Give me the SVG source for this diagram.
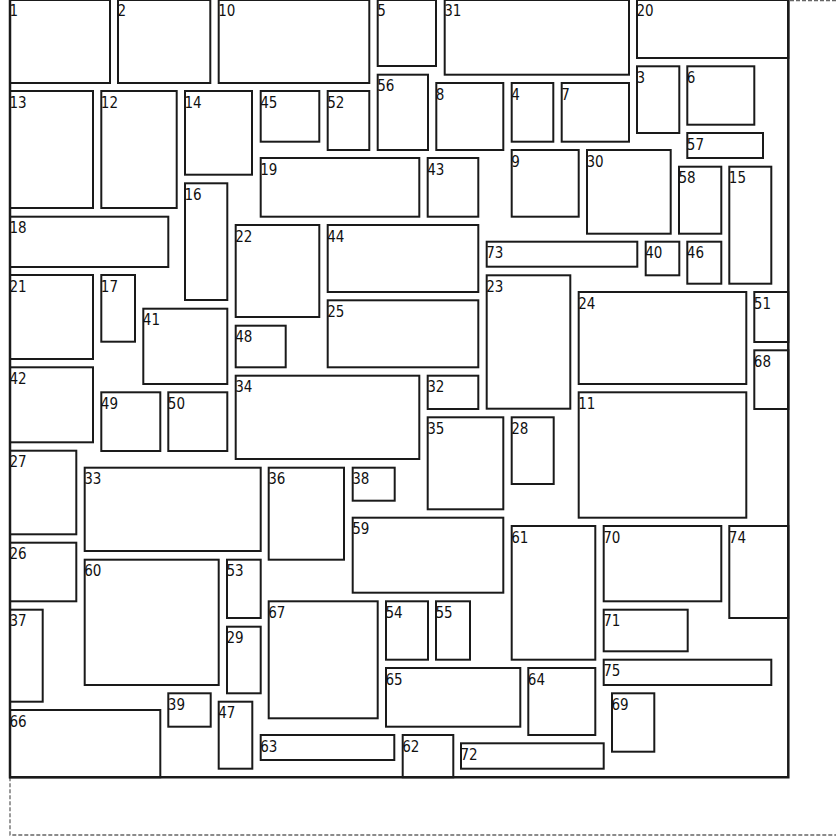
<svg xmlns="http://www.w3.org/2000/svg" width="836" height="837" viewBox="0 0 836 837">
<style>
.n rect{fill:#fff;stroke:#1a1a1a;stroke-width:2}
.n text{font-family:"DejaVu Sans Condensed","DejaVu Sans",sans-serif;font-size:15px;fill:#111}
.outer{fill:none;stroke:#666;stroke-width:1.3;stroke-dasharray:4 2}
.box{fill:none;stroke:#1a1a1a;stroke-width:2.5}
</style>
<rect width="836" height="837" fill="#fff"/>
<rect class="outer" x="10" y="0.7" width="840" height="834.3"/>
<rect x="10" y="0" width="778.3" height="777.3" fill="#fff"/>
<g id="nodes">
<g id="n1" class="n"><rect x="10" y="0" width="100" height="83"/><text x="9.5" y="16">1</text></g>
<g id="n2" class="n"><rect x="118" y="0" width="92.3" height="83"/><text x="117.5" y="16">2</text></g>
<g id="n10" class="n"><rect x="218.7" y="0" width="150.6" height="83"/><text x="218.2" y="16">10</text></g>
<g id="n5" class="n"><rect x="377.7" y="0" width="58.3" height="66"/><text x="377.2" y="16">5</text></g>
<g id="n31" class="n"><rect x="444.7" y="0" width="184.3" height="74.7"/><text x="444.2" y="16">31</text></g>
<g id="n20" class="n"><rect x="637" y="0" width="151.3" height="58"/><text x="636.5" y="16">20</text></g>
<g id="n3" class="n"><rect x="637" y="66.3" width="42.3" height="66.7"/><text x="636.5" y="82.8">3</text></g>
<g id="n6" class="n"><rect x="687.3" y="66.3" width="67" height="58.4"/><text x="686.8" y="82.8">6</text></g>
<g id="n56" class="n"><rect x="377.7" y="74.7" width="50.3" height="75.3"/><text x="377.2" y="91.2">56</text></g>
<g id="n8" class="n"><rect x="436.3" y="83" width="67" height="67"/><text x="435.8" y="99.5">8</text></g>
<g id="n4" class="n"><rect x="511.7" y="83" width="41.6" height="58.7"/><text x="511.2" y="99.5">4</text></g>
<g id="n7" class="n"><rect x="561.7" y="83" width="67.3" height="58.7"/><text x="561.2" y="99.5">7</text></g>
<g id="n13" class="n"><rect x="10" y="91" width="83" height="117"/><text x="9.5" y="107.5">13</text></g>
<g id="n12" class="n"><rect x="101.3" y="91" width="75.4" height="117"/><text x="100.8" y="107.5">12</text></g>
<g id="n14" class="n"><rect x="185" y="91" width="67" height="83.7"/><text x="184.5" y="107.5">14</text></g>
<g id="n45" class="n"><rect x="260.7" y="91" width="58.6" height="50.7"/><text x="260.2" y="107.5">45</text></g>
<g id="n52" class="n"><rect x="327.7" y="91" width="41.6" height="59"/><text x="327.2" y="107.5">52</text></g>
<g id="n57" class="n"><rect x="687.3" y="133" width="75.7" height="25"/><text x="686.8" y="149.5">57</text></g>
<g id="n9" class="n"><rect x="511.7" y="150" width="67" height="66.7"/><text x="511.2" y="166.5">9</text></g>
<g id="n30" class="n"><rect x="587" y="150" width="83.7" height="83.7"/><text x="586.5" y="166.5">30</text></g>
<g id="n19" class="n"><rect x="260.7" y="158" width="158.6" height="58.7"/><text x="260.2" y="174.5">19</text></g>
<g id="n43" class="n"><rect x="427.7" y="158" width="50.6" height="58.7"/><text x="427.2" y="174.5">43</text></g>
<g id="n58" class="n"><rect x="679" y="166.7" width="42.3" height="67"/><text x="678.5" y="183.2">58</text></g>
<g id="n15" class="n"><rect x="729.3" y="166.7" width="42" height="117"/><text x="728.8" y="183.2">15</text></g>
<g id="n16" class="n"><rect x="185" y="183.3" width="42.3" height="116.7"/><text x="184.5" y="199.8">16</text></g>
<g id="n18" class="n"><rect x="10" y="216.7" width="158.3" height="50.3"/><text x="9.5" y="233.2">18</text></g>
<g id="n22" class="n"><rect x="235.7" y="225" width="83.6" height="92"/><text x="235.2" y="241.5">22</text></g>
<g id="n44" class="n"><rect x="327.7" y="225" width="150.6" height="67"/><text x="327.2" y="241.5">44</text></g>
<g id="n73" class="n"><rect x="486.7" y="241.7" width="150.6" height="25"/><text x="486.2" y="258.2">73</text></g>
<g id="n40" class="n"><rect x="645.7" y="241.7" width="33.6" height="33.6"/><text x="645.2" y="258.2">40</text></g>
<g id="n46" class="n"><rect x="687.3" y="241.7" width="34" height="42"/><text x="686.8" y="258.2">46</text></g>
<g id="n21" class="n"><rect x="10" y="275" width="83" height="84"/><text x="9.5" y="291.5">21</text></g>
<g id="n17" class="n"><rect x="101.3" y="275" width="33.7" height="66.7"/><text x="100.8" y="291.5">17</text></g>
<g id="n23" class="n"><rect x="486.7" y="275.3" width="83.6" height="133.4"/><text x="486.2" y="291.8">23</text></g>
<g id="n24" class="n"><rect x="578.7" y="292" width="167.6" height="92"/><text x="578.2" y="308.5">24</text></g>
<g id="n51" class="n"><rect x="754.3" y="292" width="34" height="50"/><text x="753.8" y="308.5">51</text></g>
<g id="n25" class="n"><rect x="327.7" y="300.3" width="150.6" height="67"/><text x="327.2" y="316.8">25</text></g>
<g id="n41" class="n"><rect x="143.3" y="308.7" width="84" height="75.3"/><text x="142.8" y="325.2">41</text></g>
<g id="n48" class="n"><rect x="235.7" y="325.7" width="50" height="41.6"/><text x="235.2" y="342.2">48</text></g>
<g id="n68" class="n"><rect x="754.3" y="350.3" width="34" height="58.7"/><text x="753.8" y="366.8">68</text></g>
<g id="n42" class="n"><rect x="10" y="367.3" width="83" height="75"/><text x="9.5" y="383.8">42</text></g>
<g id="n34" class="n"><rect x="235.7" y="375.7" width="183.6" height="83.3"/><text x="235.2" y="392.2">34</text></g>
<g id="n32" class="n"><rect x="427.7" y="375.7" width="50.6" height="33.3"/><text x="427.2" y="392.2">32</text></g>
<g id="n49" class="n"><rect x="101.3" y="392.3" width="59" height="58.7"/><text x="100.8" y="408.8">49</text></g>
<g id="n50" class="n"><rect x="168.3" y="392.3" width="59" height="58.7"/><text x="167.8" y="408.8">50</text></g>
<g id="n11" class="n"><rect x="578.7" y="392.3" width="167.6" height="125.4"/><text x="578.2" y="408.8">11</text></g>
<g id="n35" class="n"><rect x="427.7" y="417.3" width="75.6" height="92"/><text x="427.2" y="433.8">35</text></g>
<g id="n28" class="n"><rect x="511.7" y="417.3" width="42" height="66.7"/><text x="511.2" y="433.8">28</text></g>
<g id="n27" class="n"><rect x="10" y="450.7" width="66.3" height="83.6"/><text x="9.5" y="467.2">27</text></g>
<g id="n33" class="n"><rect x="84.7" y="467.7" width="176" height="83.3"/><text x="84.2" y="484.2">33</text></g>
<g id="n36" class="n"><rect x="268.7" y="467.7" width="75.3" height="92"/><text x="268.2" y="484.2">36</text></g>
<g id="n38" class="n"><rect x="352.7" y="467.7" width="42" height="33"/><text x="352.2" y="484.2">38</text></g>
<g id="n59" class="n"><rect x="352.7" y="517.7" width="150.6" height="75"/><text x="352.2" y="534.2">59</text></g>
<g id="n61" class="n"><rect x="511.7" y="526" width="83.6" height="133.7"/><text x="511.2" y="542.5">61</text></g>
<g id="n70" class="n"><rect x="603.7" y="526" width="117.6" height="75.3"/><text x="603.2" y="542.5">70</text></g>
<g id="n74" class="n"><rect x="729.3" y="526" width="59" height="92"/><text x="728.8" y="542.5">74</text></g>
<g id="n26" class="n"><rect x="10" y="542.7" width="66.3" height="58.6"/><text x="9.5" y="559.2">26</text></g>
<g id="n60" class="n"><rect x="84.7" y="559.7" width="134" height="125.3"/><text x="84.2" y="576.2">60</text></g>
<g id="n53" class="n"><rect x="227" y="559.7" width="33.7" height="58.3"/><text x="226.5" y="576.2">53</text></g>
<g id="n67" class="n"><rect x="268.7" y="601.3" width="109" height="117"/><text x="268.2" y="617.8">67</text></g>
<g id="n54" class="n"><rect x="386" y="601.3" width="42" height="58.4"/><text x="385.5" y="617.8">54</text></g>
<g id="n55" class="n"><rect x="436" y="601.3" width="34" height="58.4"/><text x="435.5" y="617.8">55</text></g>
<g id="n37" class="n"><rect x="10" y="609.7" width="32.7" height="92"/><text x="9.5" y="626.2">37</text></g>
<g id="n71" class="n"><rect x="603.7" y="609.7" width="84" height="41.6"/><text x="603.2" y="626.2">71</text></g>
<g id="n29" class="n"><rect x="227" y="626.7" width="33.7" height="66.6"/><text x="226.5" y="643.2">29</text></g>
<g id="n75" class="n"><rect x="603.7" y="659.7" width="167.6" height="25.3"/><text x="603.2" y="676.2">75</text></g>
<g id="n65" class="n"><rect x="386" y="668" width="134.3" height="58.7"/><text x="385.5" y="684.5">65</text></g>
<g id="n64" class="n"><rect x="528.3" y="668" width="67" height="67"/><text x="527.8" y="684.5">64</text></g>
<g id="n39" class="n"><rect x="168.3" y="693.3" width="42.4" height="33.4"/><text x="167.8" y="709.8">39</text></g>
<g id="n69" class="n"><rect x="612" y="693.3" width="42.3" height="58.4"/><text x="611.5" y="709.8">69</text></g>
<g id="n47" class="n"><rect x="218.7" y="701.7" width="33.6" height="67"/><text x="218.2" y="718.2">47</text></g>
<g id="n66" class="n"><rect x="10" y="710" width="150.3" height="67.3"/><text x="9.5" y="726.5">66</text></g>
<g id="n63" class="n"><rect x="260.7" y="735" width="133.6" height="25"/><text x="260.2" y="751.5">63</text></g>
<g id="n62" class="n"><rect x="402.7" y="735" width="50.6" height="42.3"/><text x="402.2" y="751.5">62</text></g>
<g id="n72" class="n"><rect x="461" y="743.3" width="142.7" height="25.4"/><text x="460.5" y="759.8">72</text></g>
</g>
<g id="connectors"></g>
<path class="box" d="M10,0 V777.3 H788.3 V0"/>
</svg>
